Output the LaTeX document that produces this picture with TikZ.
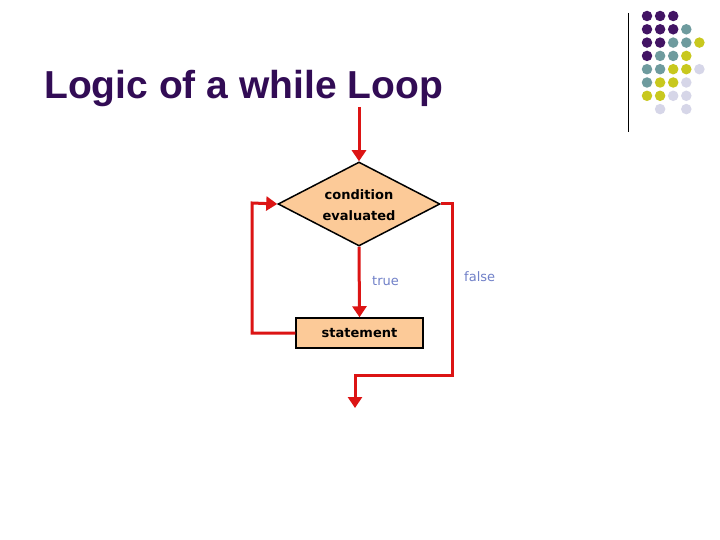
\documentclass[tikz,border=0pt]{standalone}
\usepackage{fontspec}
\setmainfont{Liberation Sans}
\newfontfamily\boxfont{DejaVu Sans}
\usetikzlibrary{shapes.geometric,arrows.meta}
\definecolor{titlec}{RGB}{50,12,85}
\definecolor{dP}{RGB}{66,20,100}
\definecolor{dT}{RGB}{110,155,158}
\definecolor{dY}{RGB}{200,200,30}
\definecolor{dL}{RGB}{214,214,232}
\definecolor{flowred}{RGB}{220,20,20}
\definecolor{peach}{RGB}{252,202,152}
\definecolor{lblue}{RGB}{112,128,200}
\tikzset{
  flow/.style={draw=flowred,line width=3pt},
  arr/.style={flow,-{Triangle[length=11pt,width=14pt]}},
  dotc/.style={circle,inner sep=0pt,minimum size=10.5pt},
  lbl/.style={font=\boxfont\fontsize{13}{21}\selectfont\bfseries,align=center},
  tf/.style={text=lblue,font=\boxfont\fontsize{13}{15}\selectfont}
}
\begin{document}
\begin{tikzpicture}[x=1pt,y=-1pt]
\useasboundingbox[fill=white] (0,0) rectangle (720,540);
% title
\node[anchor=base west,text=titlec,font=\fontsize{39}{43}\selectfont\bfseries,inner sep=0] (title) at (44,99) {Logic of a while Loop};
% decorative rule and dots
\draw[black,line width=1pt] (628,13) -- (628,132);
\foreach \c/\r/\col in {0/0/dP,1/0/dP,2/0/dP,
  0/1/dP,1/1/dP,2/1/dP,3/1/dT,
  0/2/dP,1/2/dP,2/2/dT,3/2/dT,4/2/dY,
  0/3/dP,1/3/dT,2/3/dT,3/3/dY,
  0/4/dT,1/4/dT,2/4/dY,3/4/dY,4/4/dL,
  0/5/dT,1/5/dY,2/5/dY,3/5/dL,
  0/6/dY,1/6/dY,2/6/dL,3/6/dL,
  1/7/dL,3/7/dL}{
  \node[dotc,fill=\col] at ({647+13.1*\c},{16+13.3*\r}) {};
}
% flowchart
\node[diamond,draw=black,line width=1.5pt,fill=peach,minimum width=162pt,minimum height=84pt,inner sep=0pt] (cond) at (359,204) {};
\node[lbl,inner sep=0pt] (condtxt) at (359,205) {condition\\evaluated};
\node[rectangle,draw=black,line width=1.5pt,fill=peach,minimum width=127pt,minimum height=30pt,inner sep=0pt,lbl] (stmt) at (359.5,333) {statement};
\node[tf,anchor=west,inner sep=0] (true) at (372,281) {true};
\node[tf,anchor=west,inner sep=0] (false) at (464,277) {false};
\coordinate (start) at (359,107);
\coordinate (lx) at (252,203);
\coordinate (rb) at (452,375);
\coordinate (out) at (355,408);
\draw[arr] (start) -- (cond.north);
\draw[arr] (cond.south) -- (stmt.north);
\draw[arr] (stmt.west) -| (lx) -- (cond.west);
\draw[arr] (cond.east) -| (rb) -| (out);
\end{tikzpicture}
\end{document}
